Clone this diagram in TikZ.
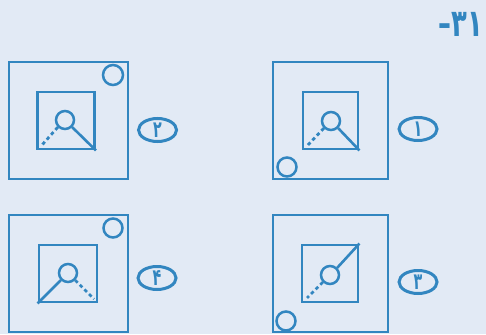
\documentclass[tikz,border=0pt]{standalone}
\usepackage{fontspec}
\newfontfamily\arabicfont[Script=Arabic]{DejaVu Sans}
\definecolor{PrintBlue}{RGB}{50,134,192}
\definecolor{PaperColor}{RGB}{226,234,245}
\usetikzlibrary{shapes.geometric}

\tikzset{
  frame/.style={draw=PrintBlue, line width=2.9pt, inner sep=0pt},
  ring/.style={circle, draw=PrintBlue, line width=2.5pt, minimum size=18pt, inner sep=0pt},
  spoke/.style={draw=PrintBlue, line width=2.6pt},
  dashspoke/.style={spoke, line width=2.8pt, dash pattern=on 3.5pt off 3pt},
  choice/.style={ellipse, draw=PrintBlue, line width=3pt, minimum width=38pt, minimum height=23pt,
    inner sep=0pt, text=PrintBlue, font=\arabicfont\bfseries\fontsize{23}{23}\selectfont}
}
\newcommand{\optnum}[1]{\scalebox{0.62}[1]{#1}}

\begin{document}
\begin{tikzpicture}[x=1pt, y=-1pt]
  \fill[PaperColor] (0,0) rectangle (486,334);
  \useasboundingbox (0,0) rectangle (486,334);
  % question number
  \node[text=PrintBlue, font=\arabicfont\bfseries\fontsize{38}{38}\selectfont, inner sep=0pt] (qnum) at (461,24)
    {\scalebox{0.68}[1]{۳۱–}};

  % option 2 (top left)
  \node[frame, minimum width=119pt, minimum height=117pt] (out2) at (68.5,120.5) {};
  \node[ring, minimum size=20pt] (dot2) at (113,75) {};
  \node[frame, minimum size=57pt] (in2) at (66,120.5) {};
  \node[ring] (c2) at (65,120) {};
  \coordinate (e2) at (42,145);
  \draw[spoke] (c2.south east) -- (in2.south east);
  \draw[dashspoke] (c2.south west) -- (e2);
  \node[choice] (l2) at (157.5,130) {\optnum{۲}};

  % option 1 (top right)
  \node[frame, minimum width=115pt, minimum height=117pt] (out1) at (330.5,120.5) {};
  \node[ring, minimum size=19pt] (dot1) at (287,167) {};
  \node[frame, minimum width=55pt, minimum height=57pt] (in1) at (330.5,120.5) {};
  \node[ring] (c1) at (331,121) {};
  \coordinate (e1) at (307,146);
  \draw[spoke] (c1.south east) -- (in1.south east);
  \draw[dashspoke] (c1.south west) -- (e1);
  \node[choice] (l1) at (418,129) {\optnum{۱}};

  % option 4 (bottom left)
  \node[frame, minimum width=119pt, minimum height=117pt] (out4) at (68.5,273.5) {};
  \node[ring, minimum size=19pt] (dot4) at (113,228) {};
  \node[frame, minimum width=58pt, minimum height=57pt] (in4) at (68,273.5) {};
  \node[ring] (c4) at (68,273) {};
  \coordinate (e4) at (94,299);
  \draw[spoke] (c4.south west) -- (in4.south west);
  \draw[dashspoke] (c4.south east) -- (e4);
  \node[choice] (l4) at (157,278) {\optnum{۴}};

  % option 3 (bottom right)
  \node[frame, minimum width=115pt, minimum height=117pt] (out3) at (330.5,273.5) {};
  \node[ring, minimum size=19pt] (dot3) at (286,321) {};
  \node[frame, minimum width=56pt, minimum height=57pt] (in3) at (330,273.5) {};
  \node[ring] (c3) at (330,275) {};
  \coordinate (e3) at (307,298);
  \draw[spoke] (c3.north east) -- (in3.north east);
  \draw[dashspoke] (c3.south west) -- (e3);
  \node[choice] (l3) at (418,282) {\optnum{۳}};
\end{tikzpicture}
\end{document}
